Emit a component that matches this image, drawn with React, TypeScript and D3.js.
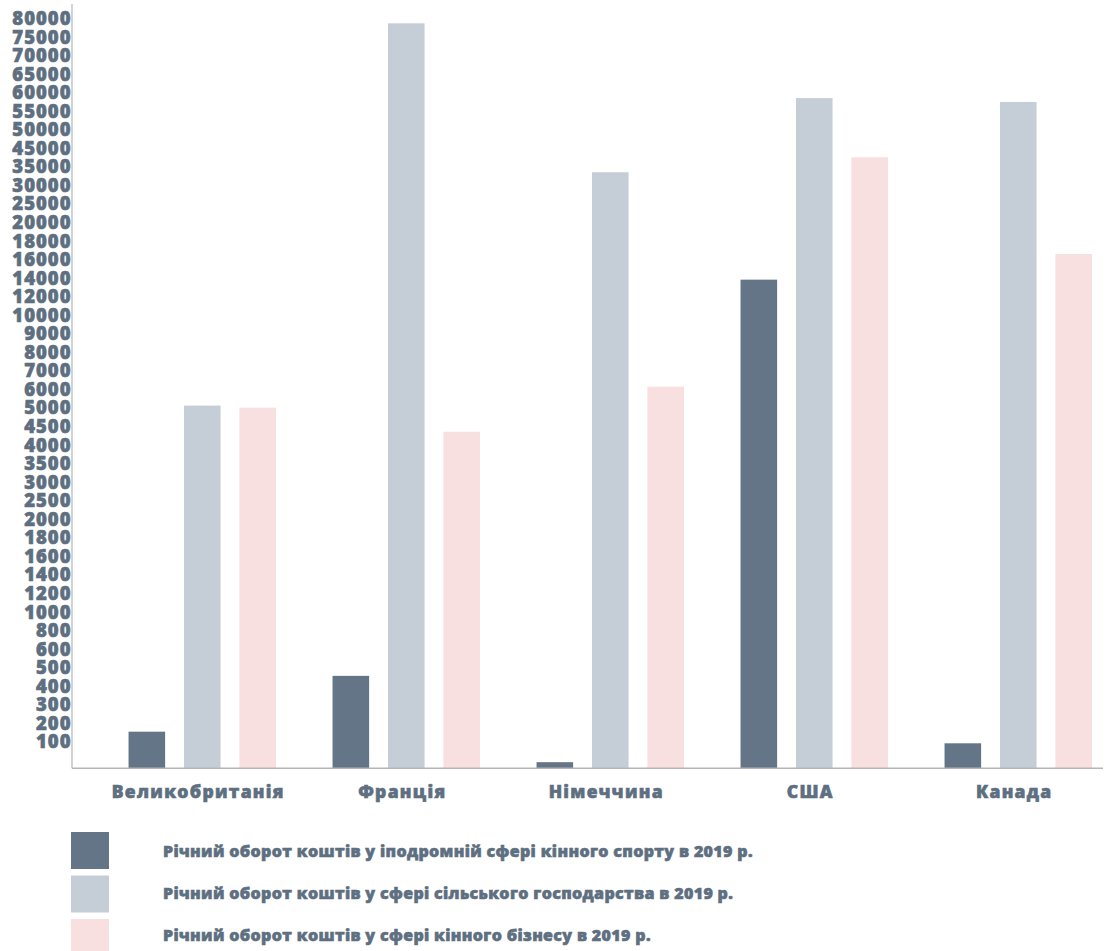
import React from "react";
import * as d3 from "d3";

const countries = ["Великобританія", "Франція", "Німеччина", "США", "Канада"];
const seriesNames = [
  "Річний оборот коштів у іподромній сфері кінного спорту в 2019 р.",
  "Річний оборот коштів у сфері сільського господарства в 2019 р.",
  "Річний оборот коштів у сфері кінного бізнесу в 2019 р.",
];
const hippodrome = [154, 455, 23, 13820, 94];
const agriculture = [5120, 78650, 33500, 58500, 57450];
const horseBusiness = [5010, 4355, 6140, 40100, 16580];
const seriesValues = [hippodrome, agriculture, horseBusiness];
const colors = ["#637587", "#c5ced6", "#f8e0e0"];
// Tick labels, from top to bottom, evenly spaced on the axis
const tickLabels = [
  80000, 75000, 70000, 65000, 60000, 55000, 50000, 45000, 35000, 30000, 25000, 20000,
  18000, 16000, 14000, 12000, 10000, 9000, 8000, 7000, 6000, 5000, 4500, 4000, 3500,
  3000, 2500, 2000, 1800, 1600, 1400, 1200, 1000, 800, 600, 500, 400, 300, 200, 100,
];

const W = 1105;
const H = 951;
const axisX = 72;
const baseY = 768.3;
const topTickY = 18.3;
const lastTickY = 741.7;
const textColor = "#5d6f80";
const font = "'Open Sans', 'Noto Sans', sans-serif";

export default function App() {
  const n = tickLabels.length;
  const stepY = (lastTickY - topTickY) / (n - 1);
  const ascTicks = [...tickLabels].reverse();
  const yDomain = [0, ...ascTicks];
  const yRange = [baseY, ...ascTicks.map((_, i) => lastTickY - i * stepY)];
  const y = d3.scaleLinear().domain(yDomain).range(yRange);

  const x0 = d3.scaleBand<string>().domain(countries).range([axisX, axisX + 204 * 5]);
  const x1 = d3
    .scaleBand<number>()
    .domain([0, 1, 2])
    .range([0, x0.bandwidth()])
    .paddingInner(0.34)
    .paddingOuter(0.51)
    .align(1);

  const heavy = { stroke: textColor, strokeWidth: 0.6, paintOrder: "stroke" as const };

  return (
    <svg width={W} height={H} style={{ position: "absolute", left: 0, top: 0, background: "#fff" }}>
      {/* y tick labels */}
      {tickLabels.map((t) => (
        <text
          key={t}
          x={71.5}
          y={y(t)}
          dy="0.36em"
          textAnchor="end"
          fontFamily={font}
          fontWeight={800}
          fontSize={18.5}
          letterSpacing={1}
          fill={textColor}
          {...heavy}
        >
          {t}
        </text>
      ))}
      {/* bars */}
      {countries.map((c, ci) => (
        <g key={c} transform={`translate(${x0(c)},0)`}>
          {seriesValues.map((vals, si) => (
            <rect
              key={si}
              x={x1(si)}
              y={y(vals[ci])}
              width={x1.bandwidth()}
              height={baseY - y(vals[ci])}
              fill={colors[si]}
            />
          ))}
        </g>
      ))}
      {/* axes lines */}
      <line x1={axisX} x2={axisX} y1={4} y2={baseY} stroke="#b5b5b5" strokeWidth={1.2} />
      <line x1={axisX} x2={W - 2} y1={baseY} y2={baseY} stroke="#b5b5b5" strokeWidth={1.5} />
      {/* category labels */}
      {countries.map((c) => (
        <text
          key={c}
          x={(x0(c) as number) + (x1(1) as number) + x1.bandwidth() / 2 - 4}
          y={798}
          textAnchor="middle"
          fontFamily={font}
          fontWeight={800}
          fontSize={17.5}
          letterSpacing={1.3}
          fill={textColor}
          {...heavy}
        >
          {c}
        </text>
      ))}
      {/* legend */}
      {seriesNames.map((s, i) => (
        <g key={s}>
          <rect x={71} y={832 + i * 43.5} width={38} height={37} fill={colors[i]} />
          <text
            x={163}
            y={851.7 + i * 42}
            dy="0.36em"
            fontFamily={font}
            fontWeight={800}
            fontSize={16}
            letterSpacing={0.35}
            fill={textColor}
            {...heavy}
          >
            {s}
          </text>
        </g>
      ))}
    </svg>
  );
}
